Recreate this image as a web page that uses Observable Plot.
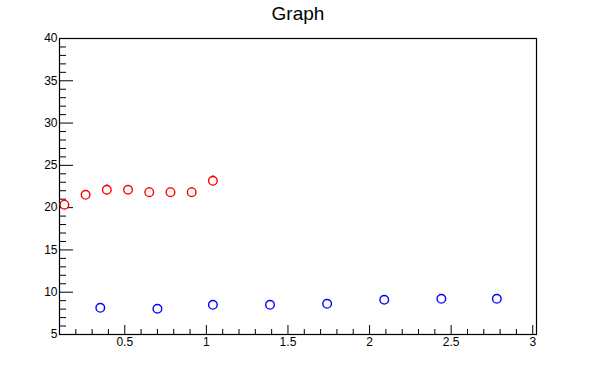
<!DOCTYPE html>
<html>
<head>
<meta charset="utf-8">
<script src="https://cdn.jsdelivr.net/npm/d3@7"></script>
<script src="https://cdn.jsdelivr.net/npm/@observablehq/plot@0.6"></script>
<style>
  html, body { margin: 0; padding: 0; background: #fff; }
  #chart { width: 596px; height: 372px; }
</style>
</head>
<body>
<div id="chart"></div>
<script>
// Red series (with small y errors)
const redX = [0.13, 0.26, 0.39, 0.52, 0.65, 0.78, 0.91, 1.04];
const redY = [20.35, 21.52, 22.11, 22.11, 21.83, 21.83, 21.83, 23.17];
const redErr = [0.55, 0.5, 0.6, 0.5, 0.55, 0.5, 0.55, 0.6];
// Blue series
const blueX = [0.35, 0.70, 1.04, 1.39, 1.74, 2.09, 2.44, 2.78];
const blueY = [8.16, 8.04, 8.51, 8.51, 8.63, 9.10, 9.22, 9.22];
// Axis ticks
const xMajor = [0.5, 1, 1.5, 2, 2.5, 3];
const xLabels = ["0.5", "1", "1.5", "2", "2.5", "3"];
const yMajor = [5, 10, 15, 20, 25, 30, 35, 40];
const yLabels = ["5", "10", "15", "20", "25", "30", "35", "40"];
const title = "Graph";

const xMinor = d3.range(2, 31).map(i => i / 10).filter(v => !xMajor.some(m => Math.abs(m - v) < 1e-9));
const yMinor = d3.range(6, 40).filter(v => !yMajor.includes(v));

const red = redX.map((x, i) => ({x, y: redY[i], e: redErr[i]}));
const blue = blueX.map((x, i) => ({x, y: blueY[i]}));

const W = 596, H = 372, mL = 59, mR = 60, mT = 38, mB = 38;
const fw = W - mL - mR, fh = H - mT - mB;

const chart = Plot.plot({
  width: W,
  height: H,
  marginLeft: mL,
  marginRight: mR,
  marginTop: mT,
  marginBottom: mB,
  style: {fontFamily: "'Liberation Sans', Arial, Helvetica, sans-serif", background: "#fff", color: "#000"},
  x: {domain: [0.1, 3.023], axis: null},
  y: {domain: [5, 40], axis: null},
  marks: [
    Plot.frame({stroke: "#000", strokeWidth: 1.2}),
    // x ticks (inward, bottom)
    Plot.tickX(xMajor, {x: d => d, stroke: "#000", insetTop: fh - 9}),
    Plot.tickX(xMinor, {x: d => d, stroke: "#000", insetTop: fh - 5}),
    // y ticks (inward, left)
    Plot.tickY(yMajor, {y: d => d, stroke: "#000", insetRight: fw - 14}),
    Plot.tickY(yMinor, {y: d => d, stroke: "#000", insetRight: fw - 7}),
    // tick labels
    Plot.text(xMajor, {x: d => d, text: (d, i) => xLabels[i], frameAnchor: "bottom", lineAnchor: "top", dy: 3, fontSize: 12}),
    Plot.text(yMajor, {y: d => d, text: (d, i) => yLabels[i], frameAnchor: "left", textAnchor: "end", dx: -2, fontSize: 12}),
    // title
    Plot.text([title], {text: d => d, frameAnchor: "top", lineAnchor: "bottom", dy: -19, fontSize: 19}),
    // red error bars
    Plot.ruleX(red, {x: "x", y1: d => d.y - d.e, y2: d => d.y + d.e, stroke: "#ff0000", strokeWidth: 1.5}),
    Plot.dot(red, {x: "x", y: "y", r: 4.3, stroke: "#ff0000", strokeWidth: 1.4, fill: "#fff"}),
    Plot.dot(blue, {x: "x", y: "y", r: 4.3, stroke: "#0000ff", strokeWidth: 1.4, fill: "#fff"})
  ]
});
document.getElementById("chart").appendChild(chart);
</script>
</body>
</html>
